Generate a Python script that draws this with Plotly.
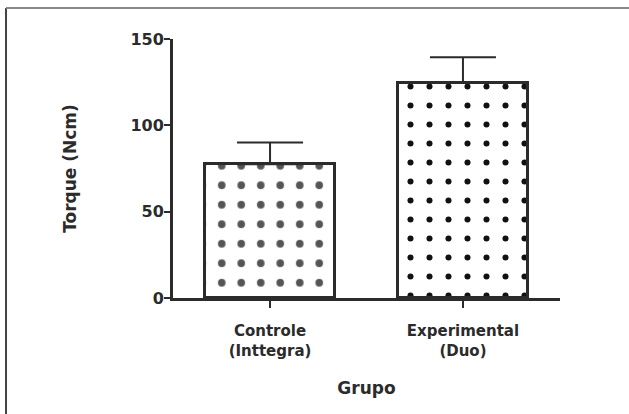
import plotly.graph_objects as go

categories = ["Controle<br>(Inttegra)", "Experimental<br>(Duo)"]
torque_mean = [77.5, 124.5]
torque_err = [12.5, 15.0]
y_ticks = [0, 50, 100, 150]

FONT = "DejaVu Sans"
INK = "#2b2b2b"

fig = go.Figure()
fig.add_trace(go.Bar(
    x=[0], y=[torque_mean[0]], width=0.675,
    marker=dict(color="white", line=dict(color=INK, width=3),
                pattern=dict(shape=".", fgcolor="#555", fgopacity=1, bgcolor="white", size=19.5, solidity=0.12)),
    error_y=dict(type="data", symmetric=False, array=[torque_err[0]], arrayminus=[0],
                 color=INK, thickness=2, width=33),
    showlegend=False,
))
fig.add_trace(go.Bar(
    x=[1], y=[torque_mean[1]], width=0.675,
    marker=dict(color="white", line=dict(color=INK, width=3),
                pattern=dict(shape=".", fgcolor="#111", fgopacity=1, bgcolor="white", size=19, solidity=0.08)),
    error_y=dict(type="data", symmetric=False, array=[torque_err[1]], arrayminus=[0],
                 color=INK, thickness=2, width=33),
    showlegend=False,
))

fig.update_layout(
    width=629, height=414,
    margin=dict(l=173, r=69, t=39, b=116, autoexpand=False),
    paper_bgcolor="white", plot_bgcolor="white",
    font=dict(family=FONT, size=15, color=INK, weight="bold"),
    bargap=0,
    xaxis=dict(
        range=[-0.503, 1.503], tickmode="array", tickvals=[0, 1], ticktext=categories,
        showgrid=False, zeroline=False, showline=True, linecolor=INK, linewidth=3,
        ticks="outside", ticklen=7, tickwidth=2, tickcolor=INK, ticklabelstandoff=10,
        tickfont=dict(family=FONT, size=15, color=INK, weight="bold"),
        title=dict(text="Grupo", font=dict(family=FONT, size=17, color=INK, weight="bold"), standoff=24),
    ),
    yaxis=dict(
        range=[0, 150], tickmode="array", tickvals=y_ticks,
        showgrid=False, zeroline=False, showline=True, linecolor=INK, linewidth=3,
        ticks="outside", ticklen=6, tickwidth=2, tickcolor=INK, ticklabelstandoff=-3,
        tickfont=dict(family=FONT, size=16, color=INK, weight="bold"),
        title=dict(text="Torque (Ncm)", font=dict(family=FONT, size=17, color=INK, weight="bold"), standoff=50),
    ),
)

# page frame lines (left and top edges)
fig.add_shape(type="line", xref="paper", yref="paper", x0=-0.4315, x1=-0.4315, y0=-0.46, y1=1.1197,
              line=dict(color="#444", width=2))
fig.add_shape(type="line", xref="paper", yref="paper", x0=-0.4315, x1=1.2, y0=1.1197, y1=1.1197,
              line=dict(color="#888", width=2))

post = "document.body.style.margin='0';"
fig.write_html("out.html", post_script=post, config={"displayModeBar": False})
